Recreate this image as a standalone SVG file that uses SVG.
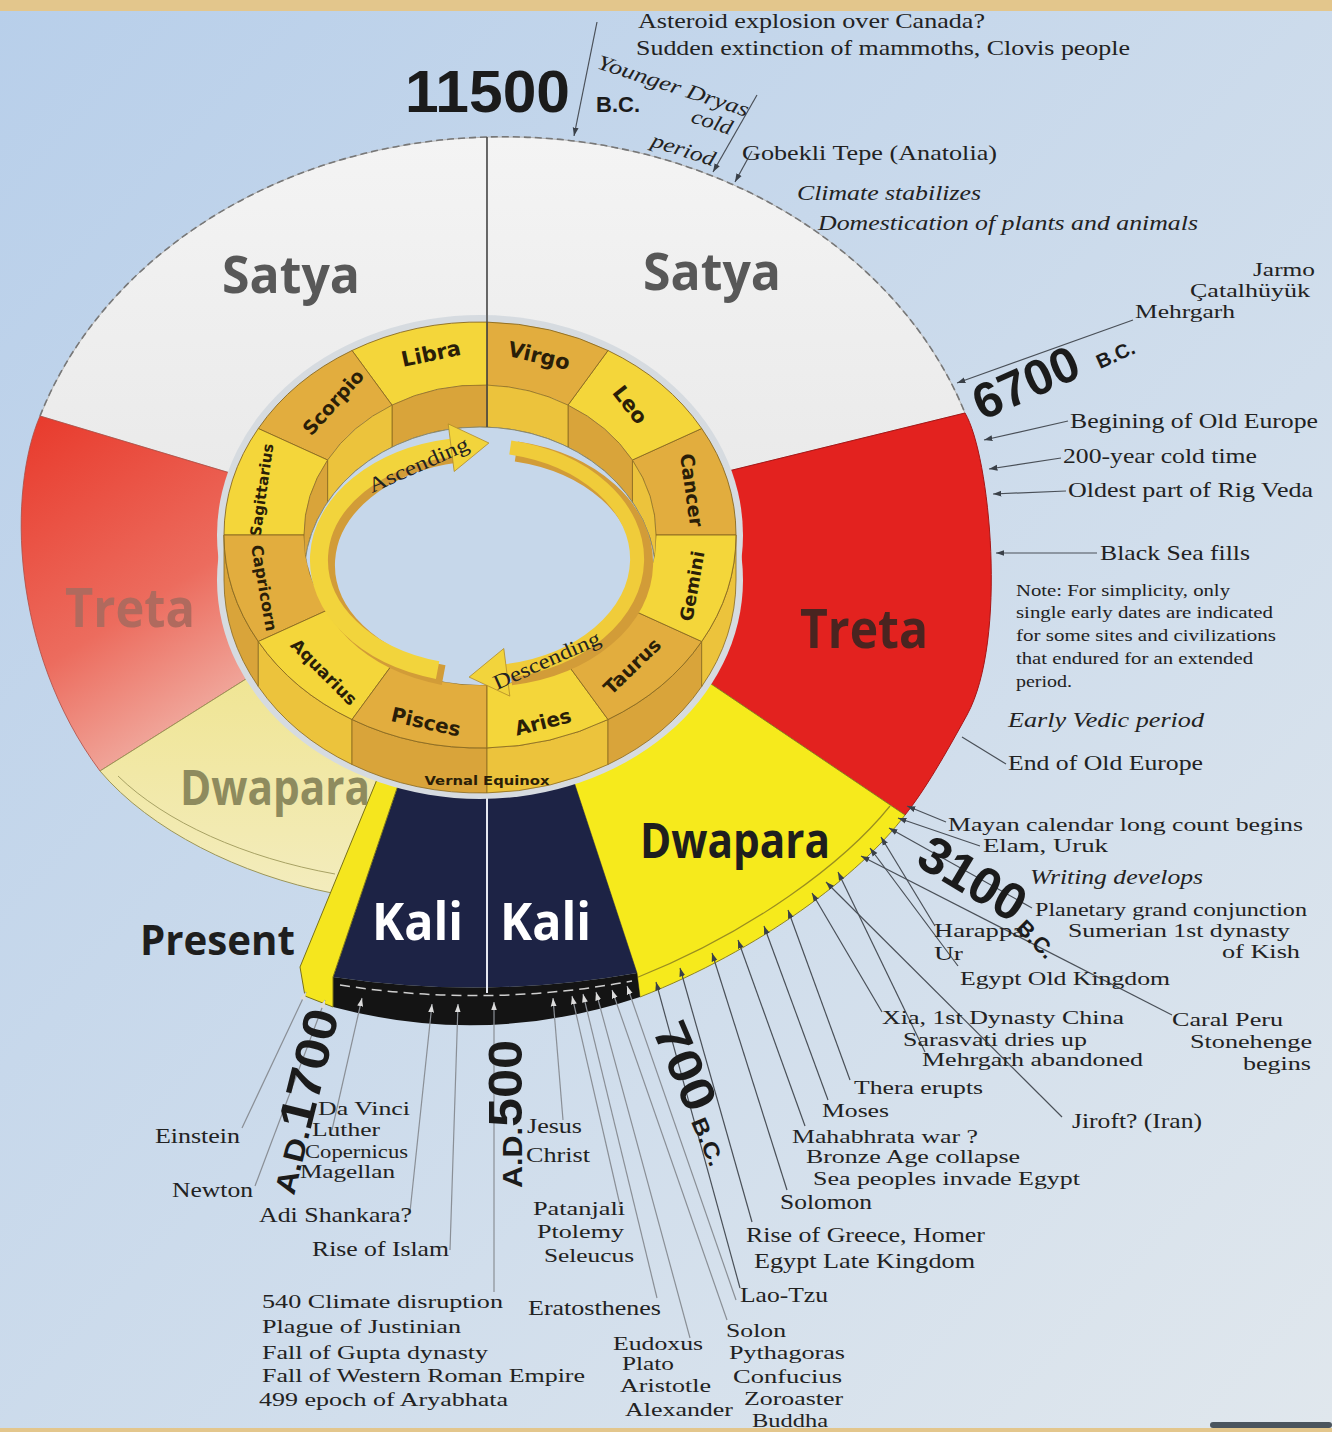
<svg xmlns="http://www.w3.org/2000/svg" width="1332" height="1432" viewBox="0 0 1332 1432">
<defs>
<style>
.t{font-family:"Liberation Serif","Times New Roman",serif;font-size:21px;fill:#222}
.sm{font-size:19px}
.i{font-style:italic}
.n{font-size:16px}
.s{font-size:19px}
.big{font-family:"Open Sans","Liberation Sans",Arial,sans-serif;font-weight:700}
.num{font-family:"Liberation Sans",Arial,sans-serif;font-weight:700;fill:#1b1b1b}
.z{font-family:"DejaVu Sans",Verdana,sans-serif;font-weight:700;fill:#2a1e08;text-anchor:middle;dominant-baseline:central}
.c{stroke:#4a5058;stroke-width:1.2;fill:none}
.ca{marker-end:url(#ah)}
.cw{stroke:#8a8f96;marker-end:url(#aw)}
.zb{fill:#f4d63a;stroke:#8a6a20;stroke-width:0.9}
.zg{fill:#e2ad3e;stroke:#8a6a20;stroke-width:0.9}
.wb{fill:#ecc33c;stroke:#8a6a20;stroke-width:0.8}
.wg{fill:#d9a43a;stroke:#8a6a20;stroke-width:0.8}
</style>
<linearGradient id="bg" x1="0" y1="0" x2="1" y2="1">
<stop offset="0" stop-color="#b8cfea"/><stop offset="1" stop-color="#e0e7ed"/>
</linearGradient>
<linearGradient id="sat" x1="0" y1="0" x2="0" y2="1">
<stop offset="0" stop-color="#f4f4f4"/><stop offset="1" stop-color="#e8e8e8"/>
</linearGradient>
<linearGradient id="tl" x1="0" y1="0" x2="0.5" y2="1">
<stop offset="0" stop-color="#e8392b"/><stop offset="0.6" stop-color="#ec6c5e"/><stop offset="1" stop-color="#f1b3a8"/>
</linearGradient>
<linearGradient id="dl" x1="0" y1="0" x2="0" y2="1">
<stop offset="0" stop-color="#efe48e"/><stop offset="1" stop-color="#f3ecbd"/>
</linearGradient>
<clipPath id="innerClip"><ellipse cx="480" cy="535" rx="176" ry="150"/></clipPath>
<marker id="ah" viewBox="0 0 10 10" refX="10" refY="5" markerWidth="7" markerHeight="7" orient="auto"><path d="M0,1.5 L10,5 L0,8.5 Z" fill="#3a4048"/></marker>
<marker id="aw" viewBox="0 0 10 10" refX="10" refY="5" markerWidth="7" markerHeight="7" orient="auto"><path d="M0,1.5 L10,5 L0,8.5 Z" fill="#dcdcdc"/></marker>
</defs>

<rect x="0" y="0" width="1332" height="1432" fill="url(#bg)"/>

<!-- Yuga ring -->
<g id="satya-left"><path d="M487,137 A487,408 0 0 0 40,416 L300,494 L487,540 Z" fill="url(#sat)" stroke="#b8b8b8" stroke-width="1"/></g>
<g id="satya-right"><path d="M487,137 A487,408 0 0 1 965,413 L700,478 L487,540 Z" fill="url(#sat)" stroke="#b8b8b8" stroke-width="1"/></g>
<g id="treta-right"><path d="M965,413 C990,455 1008,640 967,715 C945,755 925,790 905,815 L640,636 L700,478 Z" fill="#e3221f" stroke="#a81515" stroke-width="1"/></g>
<g id="treta-left"><path d="M40,416 C8,490 10,650 100,771 L300,645 L300,494 Z" fill="url(#tl)" stroke="#b04a40" stroke-width="0.8"/></g>
<g id="dwapara-left"><path d="M100,771 C150,830 240,875 332,893 L385,760 L300,645 Z" fill="url(#dl)" stroke="#9c9658" stroke-width="1"/>
<path d="M118,776 C165,822 245,858 335,874" fill="none" stroke="#a8a264" stroke-width="1"/></g>
<g id="dwapara-right"><path d="M640,636 L905,815 C860,875 760,950 640,997 L637,973 L566.8,760 L560,740 Z" fill="#f6ea1c" stroke="#8f8420" stroke-width="1"/>
<path d="M890,806 C845,862 752,932 636,978" fill="none" stroke="#9a8e20" stroke-width="1.2"/></g>
<g id="kali"><path d="M406.6,760 L566.8,760 L637,973 Q487,1000 333,977 Z" fill="#1d2345"/>
<path d="M333,977 Q487,1000 637,973 L640,997 Q487,1048 333,1007 Z" fill="#141414"/>
<path d="M340,985 Q487,1008 632,981" fill="none" stroke="#cfcfcf" stroke-width="1.5" stroke-dasharray="10 6"/>
<line x1="487" y1="790" x2="487" y2="993" stroke="#e6e8f0" stroke-width="2"/></g>
<g id="present-strip"><path d="M385,760 L406.6,760 L333,977 L333,1007 L305,996 L300,967 Z" fill="#f5e61e" stroke="#7a7218" stroke-width="1"/></g>
<path d="M40,416 A487,408 0 0 1 487,137 A487,408 0 0 1 965,413" fill="none" stroke="#777" stroke-width="1.6" stroke-dasharray="7 4"/>

<!-- Yuga labels -->
<g id="yuga-labels">
<text class="big" x="222" y="293" font-size="52" fill="#585858" textLength="138" lengthAdjust="spacingAndGlyphs">Satya</text>
<text class="big" x="643" y="290" font-size="52" fill="#585858" textLength="138" lengthAdjust="spacingAndGlyphs">Satya</text>
<text class="big" x="800" y="648" font-size="54" fill="#4a2420" textLength="128" lengthAdjust="spacingAndGlyphs">Treta</text>
<text class="big" x="65" y="627" font-size="54" fill="#b06a5e" textLength="130" lengthAdjust="spacingAndGlyphs">Treta</text>
<text class="big" x="640" y="858" font-size="48" fill="#1e1e1e" textLength="190" lengthAdjust="spacingAndGlyphs">Dwapara</text>
<text class="big" x="180" y="805" font-size="48" fill="#8e8b5e" textLength="190" lengthAdjust="spacingAndGlyphs">Dwapara</text>
</g>

<!-- Zodiac -->
<g id="zodiac">
<ellipse cx="480" cy="535" rx="263" ry="220" fill="#d6dbe0"/>
<ellipse cx="480" cy="580" rx="263" ry="219" fill="#d6dbe0"/>
<g id="outer-wall">
<path class="wg" d="M224,535 A256,213 0 0 0 258.3,641.5 L258.3,686.5 A256,213 0 0 1 224,580 Z"/>
<path class="wb" d="M258.3,641.5 A256,213 0 0 0 352,719.5 L352,764.5 A256,213 0 0 1 258.3,686.5 Z"/>
<path class="wg" d="M352,719.5 A256,213 0 0 0 487,747.9 L487,792.9 A256,213 0 0 1 352,764.5 Z"/>
<path class="wb" d="M487,747.9 A256,213 0 0 0 608,719.5 L608,764.5 A256,213 0 0 1 487,792.9 Z"/>
<path class="wg" d="M608,719.5 A256,213 0 0 0 701.7,641.5 L701.7,686.5 A256,213 0 0 1 608,764.5 Z"/>
<path class="wb" d="M701.7,641.5 A256,213 0 0 0 736,535 L736,580 A256,213 0 0 1 701.7,686.5 Z"/>
<text x="487" y="781" font-family="DejaVu Sans,Verdana,sans-serif" font-weight="700" font-size="12" fill="#2a1e08" text-anchor="middle" dominant-baseline="central" textLength="125" lengthAdjust="spacingAndGlyphs">Vernal Equinox</text>
</g>
<g id="z-cancer"><path class="zg" d="M736,535 A256,213 0 0 0 701.7,428.5 L632.4,460 A176,150 0 0 1 656,535 Z"/><text class="z" font-size="19" transform="translate(692,490) rotate(82)">Cancer</text></g>
<g id="z-leo"><path class="zb" d="M701.7,428.5 A256,213 0 0 0 608,350.5 L568,405.1 A176,150 0 0 1 632.4,460 Z"/><text class="z" font-size="21" transform="translate(630,405) rotate(52)">Leo</text></g>
<g id="z-virgo"><path class="zg" d="M608,350.5 A256,213 0 0 0 487,322.1 L487,385.1 A176,150 0 0 1 568,405.1 Z"/><text class="z" font-size="21" transform="translate(539,356) rotate(13)">Virgo</text></g>
<g id="z-libra"><path class="zb" d="M487,322.1 A256,213 0 0 0 352,350.5 L392,405.1 A176,150 0 0 1 487,385.1 Z"/><text class="z" font-size="21" transform="translate(431,354) rotate(-12)">Libra</text></g>
<g id="z-scorpio"><path class="zg" d="M352,350.5 A256,213 0 0 0 258.3,428.5 L327.6,460 A176,150 0 0 1 392,405.1 Z"/><text class="z" font-size="19" transform="translate(333,402) rotate(-48)">Scorpio</text></g>
<g id="z-sagittarius"><path class="zb" d="M258.3,428.5 A256,213 0 0 0 224,535 L304,535 A176,150 0 0 1 327.6,460 Z"/><text class="z" font-size="15" transform="translate(262,490) rotate(-82)">Sagittarius</text></g>
<g id="z-capricorn"><path class="zg" d="M224,535 A256,213 0 0 0 258.3,641.5 L327.6,610 A176,150 0 0 1 304,535 Z"/><text class="z" font-size="16" transform="translate(264,588) rotate(80)">Capricorn</text></g>
<g id="z-aquarius"><path class="zb" d="M258.3,641.5 A256,213 0 0 0 352,719.5 L392,664.9 A176,150 0 0 1 327.6,610 Z"/><text class="z" font-size="17" transform="translate(324,672) rotate(45)">Aquarius</text></g>
<g id="z-pisces"><path class="zg" d="M352,719.5 A256,213 0 0 0 487,747.9 L487,684.9 A176,150 0 0 1 392,664.9 Z"/><text class="z" font-size="20" transform="translate(426,722) rotate(13)">Pisces</text></g>
<g id="z-aries"><path class="zb" d="M487,747.9 A256,213 0 0 0 608,719.5 L568,664.9 A176,150 0 0 1 487,684.9 Z"/><text class="z" font-size="20" transform="translate(543,722) rotate(-14)">Aries</text></g>
<g id="z-taurus"><path class="zg" d="M608,719.5 A256,213 0 0 0 701.7,641.5 L632.4,610 A176,150 0 0 1 568,664.9 Z"/><text class="z" font-size="19" transform="translate(632,666) rotate(-44)">Taurus</text></g>
<g id="z-gemini"><path class="zb" d="M701.7,641.5 A256,213 0 0 0 736,535 L656,535 A176,150 0 0 1 632.4,610 Z"/><text class="z" font-size="18" transform="translate(692,586) rotate(-80)">Gemini</text></g>
<g id="inner-wall" clip-path="url(#innerClip)">
<path class="wb" d="M656,535 A176,150 0 0 0 632.4,460 L632.4,502 A176,150 0 0 1 656,577 Z"/>
<path class="wg" d="M632.4,460 A176,150 0 0 0 568,405.1 L568,447.1 A176,150 0 0 1 632.4,502 Z"/>
<path class="wb" d="M568,405.1 A176,150 0 0 0 487,385.1 L487,427.1 A176,150 0 0 1 568,447.1 Z"/>
<path class="wg" d="M487,385.1 A176,150 0 0 0 392,405.1 L392,447.1 A176,150 0 0 1 487,427.1 Z"/>
<path class="wb" d="M392,405.1 A176,150 0 0 0 327.6,460 L327.6,502 A176,150 0 0 1 392,447.1 Z"/>
<path class="wg" d="M327.6,460 A176,150 0 0 0 304,535 L304,577 A176,150 0 0 1 327.6,502 Z"/>
<ellipse cx="480" cy="577" rx="176" ry="150" fill="#c6d7ea" stroke="#8a8a70" stroke-width="1"/>
</g>
<g id="cycle-arrows">
<path d="M437.6,670.1 A160,114 0 0 1 451.2,447.7" fill="none" stroke="#d29c38" stroke-width="20" transform="translate(6,5)"/>
<path d="M437.6,670.1 A160,114 0 0 1 451.2,447.7" fill="none" stroke="#f2d43c" stroke-width="18"/>
<polygon points="454.2,471.5 448.2,423.9 488.9,443" fill="#f2d43c" stroke="#b08a2a" stroke-width="0.8"/>
<path d="M512.3,448.5 A160,114 0 0 1 506.8,672.3" fill="none" stroke="#d29c38" stroke-width="20" transform="translate(4,3)"/>
<path d="M512.3,448.5 A160,114 0 0 1 506.8,672.3" fill="none" stroke="#f0cc3a" stroke-width="14" transform="translate(-2,-1)"/>
<polygon points="509.8,696.1 503.8,648.5 469.1,677.1" fill="#f2d43c" stroke="#b08a2a" stroke-width="0.8"/>
<text class="t" font-size="21" fill="#2a2010" transform="translate(372,493) rotate(-24)" textLength="108" lengthAdjust="spacingAndGlyphs">Ascending</text>
<text class="t" font-size="21" fill="#2a2010" transform="translate(497,690) rotate(-24)" textLength="115" lengthAdjust="spacingAndGlyphs">Descending</text>
</g>
<line x1="487" y1="137" x2="487" y2="427" stroke="#444" stroke-width="1.5"/>
</g>

<!-- Kali / Present labels -->
<g id="kali-labels">
<text class="big" x="372" y="940" font-size="52" fill="#ffffff" textLength="91" lengthAdjust="spacingAndGlyphs">Kali</text>
<text class="big" x="500" y="940" font-size="52" fill="#ffffff" textLength="91" lengthAdjust="spacingAndGlyphs">Kali</text>
<text class="big" x="140" y="955" font-size="42" fill="#1e1e1e" textLength="155" lengthAdjust="spacingAndGlyphs">Present</text>
</g>

<!-- Connectors -->
<g id="connectors">
<path class="c ca" d="M597,22 L574,136"/>
<path class="c ca" d="M757,95 L713,172"/>
<path class="c ca" d="M752,151 L735,182"/>
<path class="c ca" d="M1133,320 L957,383"/>
<path class="c ca" d="M1068,421 L984,440"/>
<path class="c ca" d="M1061,458 L989,469"/>
<path class="c ca" d="M1066,491 L993,494"/>
<path class="c ca" d="M1097,553 L996,553"/>
<path class="c" d="M1006,764 L962,737"/>
<path class="c ca" d="M946,822 L907,806"/>
<path class="c ca" d="M980,846 L898,818"/>
<path class="c ca" d="M1032,908 L889,828"/>
<path class="c ca" d="M935,926 L881,837"/>
<path class="c ca" d="M958,966 L870,848"/>
<path class="c ca" d="M1172,1015 L861,856"/>
<path class="c ca" d="M882,1012 L812,893"/>
<path class="c ca" d="M925,1052 L838,872"/>
<path class="c ca" d="M1062,1117 L826,882"/>
<path class="c ca" d="M850,1080 L788,910"/>
<path class="c ca" d="M828,1100 L764,926"/>
<path class="c ca" d="M805,1126 L738,940"/>
<path class="c ca" d="M787,1190 L712,953"/>
<path class="c ca" d="M752,1222 L680,968"/>
<path class="c ca" d="M740,1288 L656,982"/>
<path class="c cw" d="M242,1128 L306,992"/>
<path class="c cw" d="M255,1186 L325,1000"/>
<path class="c cw" d="M332,1130 L362,998"/>
<path class="c cw" d="M410,1212 L432,1004"/>
<path class="c cw" d="M450,1250 L458,1004"/>
<path class="c cw" d="M494,1292 L494,1002"/>
<path class="c cw" d="M563,1120 L553,998"/>
<path class="c cw" d="M620,1205 L572,996"/>
<path class="c cw" d="M657,1298 L583,994"/>
<path class="c cw" d="M690,1338 L596,992"/>
<path class="c cw" d="M727,1320 L612,990"/>
<path class="c cw" d="M736,1300 L627,986"/>
</g>

<!-- Dates -->
<g id="dates">
<text class="num" x="405" y="112" font-size="60" textLength="165" lengthAdjust="spacingAndGlyphs">11500</text>
<text class="num" x="596" y="112" font-size="22">B.C.</text>
<text class="num" font-size="50" transform="translate(982,421) rotate(-24)">6700</text>
<text class="num" font-size="20" transform="translate(1100,369) rotate(-24)">B.C.</text>
<text class="num" font-size="52" transform="translate(914,864) rotate(31)">3100</text>
<text class="num" font-size="22" transform="translate(1015,929) rotate(45)">B.C.</text>
<text class="num" transform="translate(294,1196) rotate(-76)" textLength="188" lengthAdjust="spacingAndGlyphs"><tspan font-size="29">A.D.</tspan><tspan font-size="48">1700</tspan></text>
<text class="num" transform="translate(522,1188) rotate(-90)" textLength="148" lengthAdjust="spacingAndGlyphs"><tspan font-size="28">A.D.</tspan><tspan font-size="48">500</tspan></text>
<text class="num" transform="translate(652,1030) rotate(67)" textLength="150" lengthAdjust="spacingAndGlyphs"><tspan font-size="48">700</tspan><tspan font-size="22"> B.C.</tspan></text>
</g>

<!-- Event labels -->
<g id="labels-top">
<text class="t" x="638" y="28" font-size="24" textLength="347" lengthAdjust="spacingAndGlyphs">Asteroid explosion over Canada?</text>
<text class="t" x="636" y="55" font-size="24" textLength="494" lengthAdjust="spacingAndGlyphs">Sudden extinction of mammoths, Clovis people</text>
<text class="t i" font-size="18" transform="translate(596,68) rotate(18)" textLength="158" lengthAdjust="spacingAndGlyphs">Younger Dryas</text>
<text class="t i" font-size="18" transform="translate(690,122) rotate(18)" textLength="42" lengthAdjust="spacingAndGlyphs">cold</text>
<text class="t i" font-size="18" transform="translate(650,146) rotate(18)" textLength="66" lengthAdjust="spacingAndGlyphs">period</text>
<text class="t" x="742" y="160" font-size="24" textLength="255" lengthAdjust="spacingAndGlyphs">Gobekli Tepe (Anatolia)</text>
<text class="t i" x="797" y="200" font-size="24" textLength="184" lengthAdjust="spacingAndGlyphs">Climate stabilizes</text>
<text class="t i" x="818" y="230" font-size="24" textLength="380" lengthAdjust="spacingAndGlyphs">Domestication of plants and animals</text>
</g>
<g id="labels-right">
<text class="t s" x="1253" y="276" textLength="62" lengthAdjust="spacingAndGlyphs">Jarmo</text>
<text class="t s" x="1190" y="297" textLength="120" lengthAdjust="spacingAndGlyphs">Çatalhüyük</text>
<text class="t s" x="1135" y="318" textLength="100" lengthAdjust="spacingAndGlyphs">Mehrgarh</text>
<text class="t" x="1070" y="428" font-size="24" textLength="248" lengthAdjust="spacingAndGlyphs">Begining of Old Europe</text>
<text class="t" x="1063" y="463" font-size="24" textLength="194" lengthAdjust="spacingAndGlyphs">200-year cold time</text>
<text class="t" x="1068" y="497" font-size="24" textLength="245" lengthAdjust="spacingAndGlyphs">Oldest part of Rig Veda</text>
<text class="t" x="1100" y="560" font-size="24" textLength="150" lengthAdjust="spacingAndGlyphs">Black Sea fills</text>
<text class="t n" x="1016" y="596" textLength="214" lengthAdjust="spacingAndGlyphs">Note: For simplicity, only</text>
<text class="t n" x="1016" y="618" textLength="257" lengthAdjust="spacingAndGlyphs">single early dates are indicated</text>
<text class="t n" x="1016" y="641" textLength="260" lengthAdjust="spacingAndGlyphs">for some sites and civilizations</text>
<text class="t n" x="1016" y="664" textLength="237" lengthAdjust="spacingAndGlyphs">that endured for an extended</text>
<text class="t n" x="1016" y="687" textLength="56" lengthAdjust="spacingAndGlyphs">period.</text>
<text class="t i" x="1008" y="727" font-size="24" textLength="196" lengthAdjust="spacingAndGlyphs">Early Vedic period</text>
<text class="t" x="1008" y="770" font-size="24" textLength="195" lengthAdjust="spacingAndGlyphs">End of Old Europe</text>
</g>
<g id="labels-bottom-right">
<text class="t sm" x="948" y="831" textLength="355" lengthAdjust="spacingAndGlyphs">Mayan calendar long count begins</text>
<text class="t sm" x="983" y="852" textLength="125" lengthAdjust="spacingAndGlyphs">Elam, Uruk</text>
<text class="t i" x="1030" y="884" textLength="173" lengthAdjust="spacingAndGlyphs">Writing develops</text>
<text class="t sm" x="1035" y="916" textLength="272" lengthAdjust="spacingAndGlyphs">Planetary grand conjunction</text>
<text class="t sm" x="1068" y="937" textLength="222" lengthAdjust="spacingAndGlyphs">Sumerian 1st dynasty</text>
<text class="t sm" x="1222" y="958" textLength="78" lengthAdjust="spacingAndGlyphs">of Kish</text>
<text class="t sm" x="934" y="937" textLength="90" lengthAdjust="spacingAndGlyphs">Harappa</text>
<text class="t sm" x="934" y="960" textLength="29" lengthAdjust="spacingAndGlyphs">Ur</text>
<text class="t sm" x="960" y="985" textLength="210" lengthAdjust="spacingAndGlyphs">Egypt Old Kingdom</text>
<text class="t sm" x="882" y="1024" textLength="242" lengthAdjust="spacingAndGlyphs">Xia, 1st Dynasty China</text>
<text class="t sm" x="903" y="1046" textLength="184" lengthAdjust="spacingAndGlyphs">Sarasvati dries up</text>
<text class="t sm" x="922" y="1066" textLength="221" lengthAdjust="spacingAndGlyphs">Mehrgarh abandoned</text>
<text class="t sm" x="1172" y="1026" textLength="111" lengthAdjust="spacingAndGlyphs">Caral Peru</text>
<text class="t sm" x="1190" y="1048" textLength="122" lengthAdjust="spacingAndGlyphs">Stonehenge</text>
<text class="t sm" x="1243" y="1070" textLength="68" lengthAdjust="spacingAndGlyphs">begins</text>
<text class="t sm" x="854" y="1094" textLength="129" lengthAdjust="spacingAndGlyphs">Thera erupts</text>
<text class="t sm" x="822" y="1117" textLength="67" lengthAdjust="spacingAndGlyphs">Moses</text>
<text class="t" x="1072" y="1128" textLength="130" lengthAdjust="spacingAndGlyphs">Jiroft? (Iran)</text>
<text class="t sm" x="792" y="1143" textLength="186" lengthAdjust="spacingAndGlyphs">Mahabhrata war ?</text>
<text class="t sm" x="806" y="1163" textLength="214" lengthAdjust="spacingAndGlyphs">Bronze Age collapse</text>
<text class="t sm" x="813" y="1185" textLength="267" lengthAdjust="spacingAndGlyphs">Sea peoples invade Egypt</text>
<text class="t" x="780" y="1209" textLength="92" lengthAdjust="spacingAndGlyphs">Solomon</text>
<text class="t" x="746" y="1242" textLength="239" lengthAdjust="spacingAndGlyphs">Rise of Greece, Homer</text>
<text class="t" x="754" y="1268" textLength="221" lengthAdjust="spacingAndGlyphs">Egypt Late Kingdom</text>
<text class="t" x="740" y="1302" textLength="88" lengthAdjust="spacingAndGlyphs">Lao-Tzu</text>
<text class="t sm" x="726" y="1337" textLength="60" lengthAdjust="spacingAndGlyphs">Solon</text>
<text class="t sm" x="729" y="1359" textLength="116" lengthAdjust="spacingAndGlyphs">Pythagoras</text>
<text class="t sm" x="733" y="1383" textLength="109" lengthAdjust="spacingAndGlyphs">Confucius</text>
<text class="t sm" x="744" y="1405" textLength="99" lengthAdjust="spacingAndGlyphs">Zoroaster</text>
<text class="t sm" x="752" y="1427" textLength="76" lengthAdjust="spacingAndGlyphs">Buddha</text>
</g>
<g id="labels-bottom">
<text class="t sm" x="613" y="1350" textLength="90" lengthAdjust="spacingAndGlyphs">Eudoxus</text>
<text class="t sm" x="622" y="1370" textLength="52" lengthAdjust="spacingAndGlyphs">Plato</text>
<text class="t sm" x="620" y="1392" textLength="91" lengthAdjust="spacingAndGlyphs">Aristotle</text>
<text class="t sm" x="625" y="1416" textLength="108" lengthAdjust="spacingAndGlyphs">Alexander</text>
<text class="t" x="528" y="1315" textLength="133" lengthAdjust="spacingAndGlyphs">Eratosthenes</text>
<text class="t sm" x="533" y="1215" textLength="92" lengthAdjust="spacingAndGlyphs">Patanjali</text>
<text class="t sm" x="537" y="1238" textLength="87" lengthAdjust="spacingAndGlyphs">Ptolemy</text>
<text class="t sm" x="544" y="1262" textLength="90" lengthAdjust="spacingAndGlyphs">Seleucus</text>
<text class="t" x="527" y="1133" textLength="55" lengthAdjust="spacingAndGlyphs">Jesus</text>
<text class="t" x="526" y="1162" textLength="64" lengthAdjust="spacingAndGlyphs">Christ</text>
<text class="t sm" x="262" y="1308" textLength="241" lengthAdjust="spacingAndGlyphs">540 Climate disruption</text>
<text class="t sm" x="262" y="1333" textLength="199" lengthAdjust="spacingAndGlyphs">Plague of Justinian</text>
<text class="t sm" x="262" y="1359" textLength="226" lengthAdjust="spacingAndGlyphs">Fall of Gupta dynasty</text>
<text class="t sm" x="262" y="1382" textLength="323" lengthAdjust="spacingAndGlyphs">Fall of Western Roman Empire</text>
<text class="t sm" x="259" y="1406" textLength="249" lengthAdjust="spacingAndGlyphs">499 epoch of Aryabhata</text>
<text class="t" x="312" y="1256" textLength="137" lengthAdjust="spacingAndGlyphs">Rise of Islam</text>
<text class="t" x="259" y="1222" textLength="153" lengthAdjust="spacingAndGlyphs">Adi Shankara?</text>
<text class="t" x="172" y="1197" textLength="81" lengthAdjust="spacingAndGlyphs">Newton</text>
<text class="t" x="155" y="1143" textLength="85" lengthAdjust="spacingAndGlyphs">Einstein</text>
<text class="t sm" x="318" y="1115" textLength="92" lengthAdjust="spacingAndGlyphs">Da Vinci</text>
<text class="t sm" x="312" y="1136" textLength="68" lengthAdjust="spacingAndGlyphs">Luther</text>
<text class="t sm" x="305" y="1158" textLength="103" lengthAdjust="spacingAndGlyphs">Copernicus</text>
<text class="t sm" x="300" y="1178" textLength="95" lengthAdjust="spacingAndGlyphs">Magellan</text>
</g>

<!-- Frame -->
<rect x="0" y="0" width="1332" height="11" fill="#e3c68c"/>
<rect x="1210" y="1422" width="122" height="6" rx="3" fill="#4b555e"/>
<rect x="0" y="1428" width="1332" height="4" fill="#e3c68c"/>
</svg>
